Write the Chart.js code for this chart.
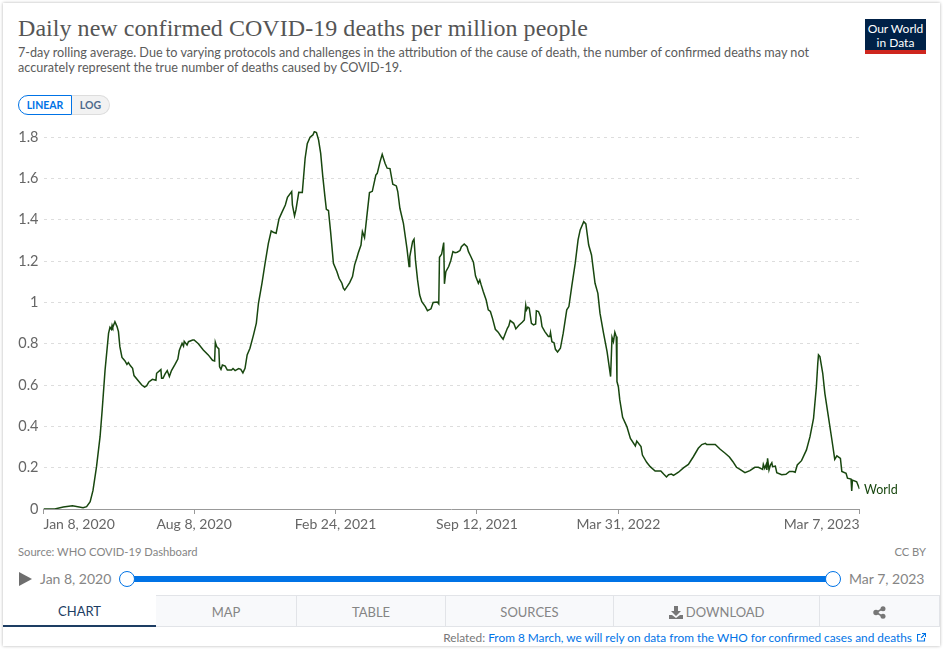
<!DOCTYPE html>
<html>
<head>
<meta charset="utf-8">
<title>Daily new confirmed COVID-19 deaths per million people</title>
<script src="https://cdn.jsdelivr.net/npm/chart.js@4"></script>
<style>
html, body { margin: 0; padding: 0; background: #fff; }
body { width: 943px; height: 649px; position: relative; overflow: hidden; font-family: Lato, sans-serif; }
#card { position: absolute; left: 3px; top: 3px; width: 937px; height: 643px; background: #fff; box-shadow: 0 0 3px rgba(0,0,0,.3); }
.abs { position: absolute; white-space: nowrap; }
#title { left: 18px; top: 15px; font: 24px "Liberation Serif", serif; color: #555; letter-spacing: .05px; }
.sub { left: 18px; font-size: 12.65px; color: #5b5b5b; line-height: 16px; }
#logo { left: 865px; top: 19px; width: 61px; height: 35px; background: #002147; border-bottom: 4px solid #ce261e; box-sizing: border-box; color: #fff; font-size: 12px; line-height: 14px; text-align: center; padding-top: 3px; }
#linear { left: 18px; top: 95px; width: 54px; height: 20px; box-sizing: border-box; border: 1px solid #0073e6; border-radius: 10px 0 0 10px; color: #0073e6; font-size: 10.5px; font-weight: bold; line-height: 18px; text-align: center; }
#log { left: 72px; top: 95px; width: 38px; height: 20px; box-sizing: border-box; border: 1px solid #ddd; border-left: 0; border-radius: 0 10px 10px 0; background: #f2f2f2; color: #4e6a8c; font-size: 10.5px; font-weight: bold; line-height: 18px; text-align: center; }
#chart-wrap { position: absolute; left: 0; top: 120px; width: 943px; height: 420px; }
.small { font-size: 11.2px; color: #858585; top: 545px; line-height: 14px; }
.date { font-size: 14px; color: #858585; top: 571px; line-height: 16px; }
#play { left: 19px; top: 572px; width: 0; height: 0; border-left: 13px solid #6e6e6e; border-top: 7px solid transparent; border-bottom: 7px solid transparent; }
#bar { left: 127px; top: 576px; width: 706px; height: 6px; background: #0073e6; }
.knob { top: 571px; width: 16px; height: 16px; box-sizing: border-box; border: 1px solid #0073e6; border-radius: 50%; background: #fff; }
.tab { top: 595px; height: 32px; box-sizing: border-box; background: #f8f9fb; border-top: 1px solid #e2e4e8; border-right: 1px solid #e2e4e8; border-bottom: 1px solid #e2e4e8; color: #858585; font-size: 13px; line-height: 32px; text-align: center; }
#tab-chart { left: 3px; width: 153px; background: #fff; border: 0; border-bottom: 2px solid #1d3d63; color: #1d3d63; }
#related { right: 31px; top: 631px; font-size: 11.85px; line-height: 14px; color: #777; }
#related span { color: #0073e6; }
#ext { left: 917px; top: 633px; }
</style>
</head>
<body>
<div id="card"></div>
<div class="abs" id="title">Daily new confirmed COVID-19 deaths per million people</div>
<div class="abs sub" style="top:45px">7-day rolling average. Due to varying protocols and challenges in the attribution of the cause of death, the number of confirmed deaths may not</div>
<div class="abs sub" style="top:60px">accurately represent the true number of deaths caused by COVID-19.</div>
<div class="abs" id="logo">Our World<br>in Data</div>
<div class="abs" id="linear">LINEAR</div>
<div class="abs" id="log">LOG</div>

<div id="chart-wrap"><canvas id="deaths_chart"></canvas></div>

<div class="abs small" style="left:18px">Source: WHO COVID-19 Dashboard</div>
<div class="abs small" style="right:17px">CC BY</div>
<div class="abs" id="play"></div>
<div class="abs date" style="left:40px">Jan 8, 2020</div>
<div class="abs" id="bar"></div>
<div class="abs knob" style="left:119px"></div>
<div class="abs knob" style="left:825px"></div>
<div class="abs date" style="left:849px">Mar 7, 2023</div>

<div class="abs tab" id="tab-chart">CHART</div>
<div class="abs tab" style="left:156px;width:141px">MAP</div>
<div class="abs tab" style="left:297px;width:149px">TABLE</div>
<div class="abs tab" style="left:446px;width:168px">SOURCES</div>
<div class="abs tab" style="left:614px;width:206px">
  <svg width="14" height="13" viewBox="0 0 14 13" style="vertical-align:-2px"><path d="M5 0h4v5h3L7 10 2 5h3zM0 9h3l4 3 4-3h3v4H0z" fill="#777"/></svg>
  DOWNLOAD</div>
<div class="abs tab" style="left:820px;width:120px">
  <svg width="13" height="13" viewBox="0 0 13 13" style="vertical-align:-2px"><path d="M3 6.5 10 2.500M3 6.500 10 10.500" stroke="#777" stroke-width="1.500"/><circle cx="3" cy="6.500" r="2.700" fill="#777"/><circle cx="10" cy="2.700" r="2.500" fill="#777"/><circle cx="10" cy="10.300" r="2.500" fill="#777"/></svg></div>
<div class="abs" id="related">Related: <span>From 8 March, we will rely on data from the WHO for confirmed cases and deaths</span></div>
<svg class="abs" id="ext" width="9" height="9" viewBox="0 0 9 9"><path d="M7.500 5v3h-7V1.500h3M5 .5h3.500V4M8.500.5 4 5" fill="none" stroke="#0073e6" stroke-width="1.100"/></svg>

<script>
// days since Jan 8, 2020
const dayOffsets = [
  0,16,28,41,56,61,66,70,75,80,83,87,92,94,96,97,98,101,104,106,108,111,115,118,120,123,126,128,134,139,143,146,149,154,159,160,166,167,169,172,175,178,181,186,190,192,196,198,199,203,205,211,213,219,226,233,239,242,243,245,248,249,251,253,257,260,266,268,271,276,279,282,285,288,292,297,301,304,309,313,318,322,325,329,333,337,342,345,351,352,355,357,361,
  366,370,373,377,381,383,386,389,392,395,398,400,403,406,410,415,418,422,424,426,430,433,437,440,443,445,449,451,454,457,461,465,470,472,476,479,483,486,490,494,499,501,504,509,514,517,518,522,524,526,529,532,535,540,543,548,551,557,559,560,563,566,567,569,573,576,579,582,585,589,591,595,599,601,604,608,611,615,617,619,622,626,629,632,635,639,643,647,650,653,656,658,660,665,668,672,677,680,682,683,685,687,690,693,696,697,700,703,705,709,714,716,717,719,722,724,727,731,735,740,743,747,752,756,759,764,767,771,775,780,784,787,792,797,802,804,806,808,810,811,813,815,
  819,825,830,837,839,845,847,853,858,865,873,877,881,884,888,891,898,905,912,919,926,931,936,938,950,957,964,970,975,980,985,992,999,1006,1011,1017,1018,1020,1022,1023,1024,1026,1028,1030,1031,1035,1037,1044,1050,1055,1060,1063,1066,1072,1079,1084,1089,1093,1095,1096,1098,1102,1105,1110,1115,1119,1122,1127,1129,1135,1137,1142,1143,1144,1150,1154
];
const deathsPerMillion = [
  0,0,.01,.016,.006,.011,.035,.09,.205,.35,.48,.67,.85,.88,.87,.89,.88,.907,.883,.859,.786,.734,.718,.70,.709,.693,.681,.646,.621,.60,.59,.597,.615,.628,.623,.657,.675,.633,.633,.654,.67,.641,.67,.70,.726,.767,.802,.789,.812,.794,.81,.818,.818,.80,.77,.746,.72,.717,.807,.786,.775,.689,.676,.697,.692,.673,.673,.68,.67,.68,.676,.659,.681,.746,.778,.843,.90,.996,1.093,1.182,1.286,1.346,1.34,1.335,1.404,1.435,1.472,1.509,1.537,1.472,1.419,1.448,1.533,
  1.532,1.698,1.768,1.80,1.811,1.827,1.822,1.787,1.722,1.609,1.512,1.451,1.445,1.343,1.19,1.149,1.117,1.093,1.069,1.06,1.08,1.096,1.125,1.182,1.214,1.238,1.278,1.343,1.314,1.408,1.532,1.538,1.617,1.625,1.682,1.717,1.674,1.65,1.648,1.572,1.564,1.537,1.456,1.383,1.262,1.174,1.222,1.295,1.306,1.206,1.109,1.036,1.004,.98,.96,.969,1.0,1.002,.993,1.219,1.233,1.29,1.09,1.149,1.174,1.203,1.246,1.241,1.243,1.251,1.27,1.283,1.27,1.246,1.225,1.195,1.128,1.093,1.109,1.085,1.052,1.012,.964,.956,.923,.87,.856,.835,.822,.848,.875,.886,.912,.899,.872,.888,.904,.915,.986,.964,.977,.972,.899,.891,.896,.96,.956,.931,.883,.859,.835,.835,.854,.81,.805,.773,.76,.778,.851,.964,.98,1.077,1.19,1.303,1.351,1.391,1.38,1.278,1.23,1.093,1.044,.948,.851,.762,.641,.831,.81,.856,.835,.617,.592,.528,
  .444,.399,.342,.305,.329,.302,.261,.226,.205,.184,.184,.169,.155,.166,.169,.163,.178,.199,.216,.253,.294,.312,.318,.312,.312,.289,.27,.252,.229,.202,.192,.176,.186,.202,.202,.192,.216,.197,.215,.189,.245,.189,.213,.224,.205,.208,.176,.166,.168,.182,.181,.178,.213,.234,.286,.35,.439,.592,.705,.746,.738,.657,.56,.447,.334,.24,.257,.245,.182,.173,.149,.145,.087,.14,.132,.097
];
const xTickDays = [0, 213, 413, 613, 813, 1154];
const xTickLabels = ["Jan 8, 2020", "Aug 8, 2020", "Feb 24, 2021", "Sep 12, 2021", "Mar 31, 2022", "Mar 7, 2023"];
const yTickValues = [0, 0.2, 0.4, 0.6, 0.8, 1, 1.2, 1.4, 1.6, 1.8];
const seriesName = "World";

const lineColor = "#18470f";
const tickFont = { family: "Lato", size: 14 };

// draws the series name next to the last point
const endLabel = {
  id: "endLabel",
  afterDatasetsDraw(chart) {
    const last = chart.getDatasetMeta(0).data[dayOffsets.length - 1];
    const ctx = chart.ctx;
    ctx.save();
    ctx.font = "12.5px Lato";
    ctx.fillStyle = lineColor;
    ctx.textBaseline = "middle";
    ctx.fillText(seriesName, last.x + 4.5, last.y + 1);
    ctx.restore();
  },
};

new Chart(document.getElementById("deaths_chart"), {
  type: "line",
  data: {
    datasets: [
      {
        label: seriesName,
        data: dayOffsets.map((d, i) => ({ x: d, y: deathsPerMillion[i] })),
        borderColor: lineColor,
        backgroundColor: lineColor,
        borderWidth: 1.5,
        pointRadius: 0,
        tension: 0,
      },
    ],
  },
  options: {
    responsive: true,
    maintainAspectRatio: false,
    animation: false,
    devicePixelRatio: 1,
    layout: { padding: { top: 11, right: 83.5, left: 0, bottom: 0 } },
    plugins: { legend: { display: false }, tooltip: { enabled: false } },
    scales: {
      x: {
        type: "linear",
        min: 0,
        max: 1154,
        afterBuildTicks: (axis) => { axis.ticks = xTickDays.map((v) => ({ value: v })); },
        afterFit: (axis) => { axis.height = 31; },
        border: { color: "#999", width: 1 },
        grid: { drawOnChartArea: false, drawTicks: true, tickLength: 5, color: "#999" },
        ticks: {
          autoSkip: false,
          maxRotation: 0,
          align: "inner",
          padding: 2,
          color: "#666",
          font: tickFont,
          callback: (v) => xTickLabels[xTickDays.indexOf(v)],
        },
      },
      y: {
        min: 0,
        max: 1.83,
        afterBuildTicks: (axis) => { axis.ticks = yTickValues.map((v) => ({ value: v })); },
        afterFit: (axis) => {
          axis.width = 43.5;
          // no room kept for half a label above the top tick
          axis.paddingTop = 0;
          axis.paddingBottom = 0;
        },
        border: { display: false, dash: [3, 4] },
        grid: {
          drawTicks: false,
          color: (c) => (c.tick.value === 0 ? "rgba(0,0,0,0)" : "#ddd"),
        },
        ticks: {
          padding: 5,
          color: "#666",
          font: { family: "Lato", size: 14.5 },
          callback: (v) => String(v),
        },
      },
    },
  },
  plugins: [endLabel],
});
</script>
</body>
</html>
